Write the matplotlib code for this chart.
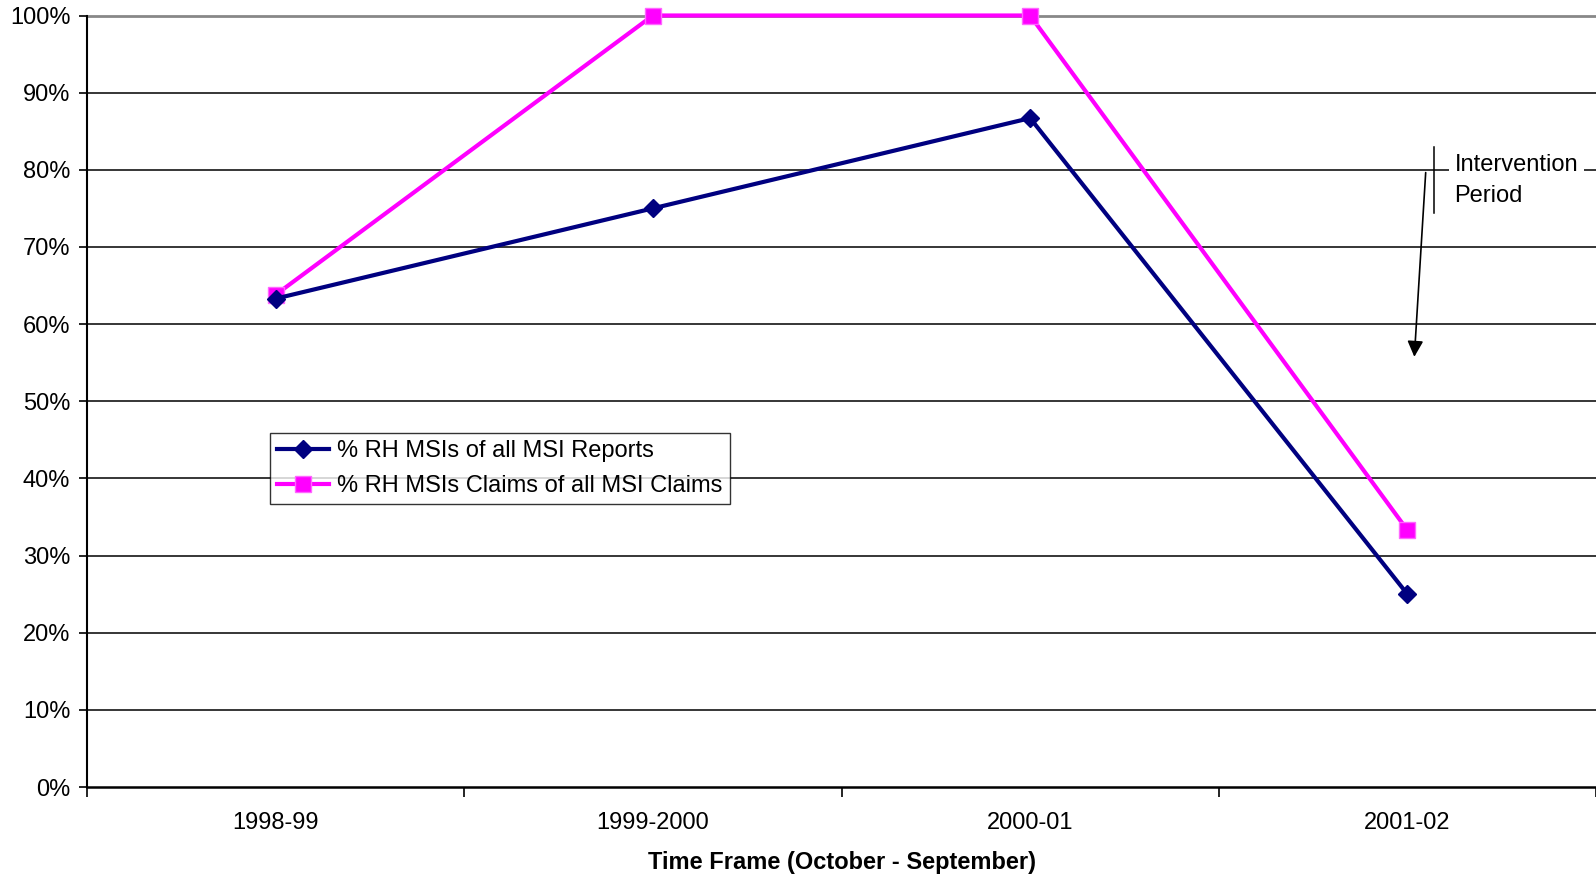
import numpy as np
import matplotlib.pyplot as plt

plt.rcParams['font.family'] = ['Liberation Sans', 'DejaVu Sans']

periods = ["1998-99", "1999-2000", "2000-01", "2001-02"]
reports = [63.3, 75.0, 86.7, 25.0]
claims = [63.8, 100.0, 100.0, 33.3]

fig = plt.figure(figsize=(15.96, 8.77), dpi=100)
ax = fig.add_axes([87/1596, 1 - 787/877, 1 - 87/1596, (787 - 15.5)/877])

x = np.arange(len(periods)) + 0.5
ax.plot(x, reports, color='#000080', lw=3, marker='D', ms=9.5,
        label="% RH MSIs of all MSI Reports", zorder=4, clip_on=False)
ax.plot(x, claims, color='#ff00ff', lw=3, marker='s', ms=11,
        mec='#ff66ff', label="% RH MSIs Claims of all MSI Claims", zorder=3, clip_on=False)

ax.set_xlim(0, 4)
ax.set_ylim(0, 100)
ax.set_yticks(np.arange(0, 101, 10))
ax.set_yticklabels([f"{v}%" for v in range(0, 101, 10)], fontsize=17)
ax.set_xticks(x)
ax.set_xticklabels(periods, fontsize=17)
ax.set_xticks(np.arange(0, 5), minor=True)
ax.tick_params(axis='x', which='major', length=0, pad=18)
ax.tick_params(axis='x', which='minor', length=7, width=1.2, direction='out')
ax.tick_params(axis='y', length=6, width=1.2, pad=6)
ax.set_xlabel("Time Frame (October - September)", fontsize=17, fontweight='bold', labelpad=12)

for v in range(10, 100, 10):
    ax.axhline(v, color='black', lw=1.1, zorder=1)
ax.axhline(100, color='#888888', lw=2, zorder=1, clip_on=False)

for s in ['top', 'right']:
    ax.spines[s].set_visible(False)
ax.spines['left'].set_linewidth(1.5)
ax.spines['bottom'].set_linewidth(1.8)

# intervention marker
ax.plot([3.571, 3.571], [74.4, 83.0], color='black', lw=1.1, zorder=2)
ax.annotate("", xy=(3.518, 55.4), xytext=(3.549, 80),
            arrowprops=dict(arrowstyle='-|>', color='black', lw=1.2, mutation_scale=24))
ax.text(3.625, 78.6, "Intervention\nPeriod", fontsize=17, va='center', ha='left',
        linespacing=1.5, zorder=5,
        bbox=dict(facecolor='white', edgecolor='none', pad=4))

leg = ax.legend(loc='upper left', bbox_to_anchor=(270/1596, 1 - 433/877),
                bbox_transform=fig.transFigure, fontsize=17, frameon=True,
                fancybox=False, handlelength=2.2, handletextpad=0.35,
                borderpad=0.3, labelspacing=0.55, borderaxespad=0)
leg.get_frame().set_edgecolor('black')
leg.get_frame().set_linewidth(1.0)

fig.savefig("out.png", dpi=100)
